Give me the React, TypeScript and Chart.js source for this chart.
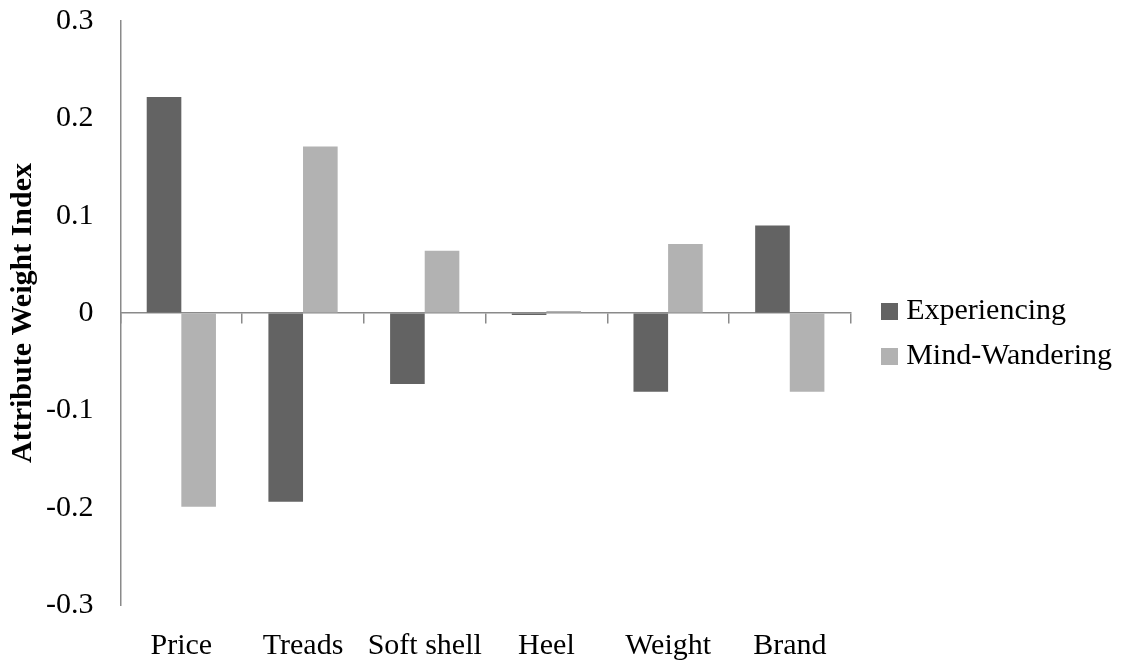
import React, { useEffect, useRef } from "react";
import { Chart, registerables } from "chart.js";

Chart.register(...registerables);

// Attribute categories along the x axis
const categories = ["Price", "Treads", "Soft shell", "Heel", "Weight", "Brand"];

// Attribute weight index per condition
const experiencing = [0.222, -0.194, -0.073, -0.002, -0.081, 0.09];
const mindWandering = [-0.199, 0.171, 0.064, 0.002, 0.071, -0.081];

const seriesNames = ["Experiencing", "Mind-Wandering"];
const seriesColors = ["#636363", "#b2b2b2"];

const yMin = -0.3;
const yMax = 0.3;
const yStep = 0.1;

const FONT = "'Liberation Serif', 'Times New Roman', serif";
const FONT_SIZE = 30;
const AXIS_COLOR = "#8a8a8a";

// Small square swatch used as the legend marker
function makeSwatch(color: string, size: number): HTMLCanvasElement {
  const c = document.createElement("canvas");
  c.width = size;
  c.height = size;
  const g = c.getContext("2d")!;
  g.fillStyle = color;
  g.fillRect(0, 0, size, size);
  return c;
}

// Places the legend a fixed distance to the right of the plot area
const legendPlacement = {
  id: "legendPlacement",
  afterLayout(chart: any) {
    const lg = chart.legend;
    if (!lg) return;
    const dx = chart.chartArea.right + 22 - lg.left;
    lg.left += dx;
    lg.right += dx;
    lg.top -= 9;
    lg.bottom -= 9;
  },
};

export default function App() {
  const canvasRef = useRef<HTMLCanvasElement | null>(null);

  useEffect(() => {
    if (!canvasRef.current) return;
    const swatches = seriesColors.map((c) => makeSwatch(c, 17));

    const chart = new Chart(canvasRef.current, {
      type: "bar",
      data: {
        labels: categories,
        datasets: [
          {
            label: seriesNames[0],
            data: experiencing,
            backgroundColor: seriesColors[0],
            borderWidth: 0,
          },
          {
            label: seriesNames[1],
            data: mindWandering,
            backgroundColor: seriesColors[1],
            borderWidth: 0,
          },
        ],
      },
      options: {
        responsive: false,
        animation: false,
        devicePixelRatio: 1,
        layout: { padding: { top: 21, left: 0, right: 31, bottom: 1 } },
        datasets: {
          bar: { barPercentage: 1, categoryPercentage: 0.569 },
        },
        scales: {
          x: {
            type: "category",
            position: "bottom",
            offset: true,
            // invisible tick marks act as the gap between plot and labels
            grid: {
              display: true,
              drawOnChartArea: false,
              drawTicks: true,
              tickLength: 23,
              tickColor: "rgba(0,0,0,0)",
              offset: true,
            },
            border: { display: false },
            ticks: {
              padding: 0,
              color: "#000",
              font: { family: FONT, size: FONT_SIZE },
              maxRotation: 0,
              autoSkip: false,
            },
          },
          // Zero line with category separator ticks
          xZero: {
            type: "category",
            axis: "x",
            labels: categories,
            position: { y: 0 },
            offset: true,
            grid: {
              display: true,
              offset: true,
              drawOnChartArea: false,
              drawTicks: true,
              tickLength: 10,
              color: AXIS_COLOR,
              lineWidth: 1.5,
            },
            border: { display: true, color: AXIS_COLOR, width: 1.5 },
            ticks: { display: false },
          },
          y: {
            min: yMin,
            max: yMax,
            grid: {
              display: true,
              drawOnChartArea: false,
              drawTicks: true,
              tickLength: 27,
              tickColor: "rgba(0,0,0,0)",
            },
            border: { display: true, color: AXIS_COLOR, width: 1.5 },
            ticks: {
              stepSize: yStep,
              padding: 0,
              color: "#000",
              font: { family: FONT, size: FONT_SIZE },
              callback: (v: any) => String(Math.round(Number(v) * 10) / 10),
            },
            title: {
              display: true,
              text: "Attribute Weight Index",
              color: "#000",
              font: { family: FONT, size: FONT_SIZE, weight: "bold" },
              padding: { top: 5, bottom: 5 },
            },
          },
        },
        plugins: {
          tooltip: { enabled: false },
          legend: {
            position: "right",
            labels: {
              color: "#000",
              font: { family: FONT, size: FONT_SIZE },
              padding: 15,
              usePointStyle: true,
              pointStyleWidth: 3.5,
              generateLabels: (ch: any) =>
                Chart.defaults.plugins.legend.labels
                  .generateLabels(ch)
                  .map((item: any, i: number) => ({ ...item, pointStyle: swatches[i] })),
            },
          },
        },
      },
      plugins: [legendPlacement],
    } as any);

    return () => chart.destroy();
  }, []);

  return (
    <div style={{ position: "fixed", left: 0, top: 0, width: 1131, height: 665, background: "#fff" }}>
      <canvas ref={canvasRef} width={1131} height={665} />
    </div>
  );
}
